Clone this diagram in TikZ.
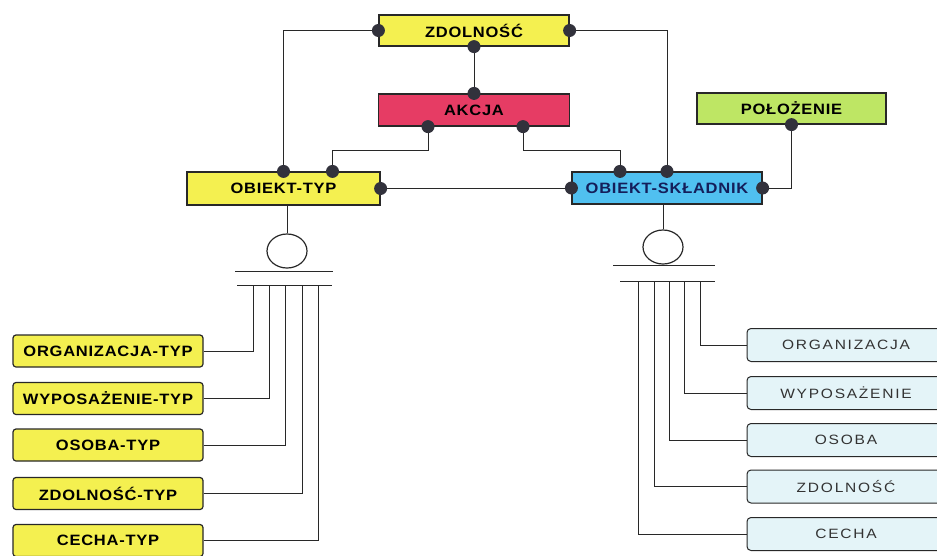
\documentclass[tikz,border=0pt]{standalone}
\usepackage{fontspec}
\setmainfont{Liberation Sans}
\newfontfamily\labf[FakeStretch=1.1,LetterSpace=5]{Liberation Sans}
\newfontfamily\labl[FakeStretch=1.15,LetterSpace=13]{Liberation Sans}
\usetikzlibrary{shapes.geometric,calc}
\definecolor{cyel}{RGB}{244,240,80}
\definecolor{cred}{RGB}{230,60,100}
\definecolor{cgrn}{RGB}{190,230,100}
\definecolor{cblu}{RGB}{80,192,240}
\definecolor{clbl}{RGB}{228,244,248}
\definecolor{cline}{RGB}{40,40,40}
\definecolor{cdot}{RGB}{50,50,60}
\definecolor{cnavy}{RGB}{20,30,90}
\begin{document}
\begin{tikzpicture}[x=1pt,y=-1pt,
  ent/.style={draw=cline, line width=1.2pt, minimum height=32pt, inner sep=0pt,
    font=\labf\fontsize{15}{17}\selectfont\bfseries},
  subt/.style={ent, fill=cyel, minimum width=190pt, minimum height=32pt, rounded corners=3pt},
  subl/.style={draw=cline, line width=1pt, fill=clbl, minimum width=198pt, minimum height=33pt,
    inner sep=0pt, rounded corners=4pt, text=black!80,
    font=\labl\fontsize{13.5}{15}\selectfont},
  conn/.style={draw=cline, line width=1pt},
  oval/.style={draw=cline, line width=1.2pt, ellipse, minimum width=40pt, minimum height=34pt, inner sep=0pt},
  bar/.style={draw=cline, line width=1pt},
  jdot/.style={fill=cdot}
]
\fill[white] (0,0) rectangle (937,555);
\useasboundingbox (0,0) rectangle (937,555);

% main entities
\node[ent, fill=cyel, minimum width=190pt, minimum height=31pt] (zd) at (474,30.5) {ZDOLNOŚĆ};
\node[ent, fill=cred, minimum width=191pt] (ak) at (474,110) {AKCJA};
\node[ent, fill=cgrn, minimum width=189pt, minimum height=31pt] (po) at (791.5,108.5) {POŁOŻENIE};
\node[ent, fill=cyel, minimum width=193pt, minimum height=33pt] (ot) at (283.5,188.5) {OBIEKT-TYP};
\node[ent, fill=cblu, minimum width=190pt, text=cnavy] (os) at (667,188) {OBIEKT-SKŁADNIK};

% connection points
\coordinate (akL) at ([xshift=-46pt]ak.south);
\coordinate (akR) at ([xshift=49pt]ak.south);
\coordinate (otR) at ([xshift=49pt]ot.north);
\coordinate (osL) at ([xshift=-47pt]os.north);

% connectors
\draw[conn] (zd.west) -| (ot.north);
\draw[conn] (zd.east) -| (os.north);
\draw[conn] (zd.south) -- (ak.north);
\draw[conn] (akL) -- ++(0,24) -| (otR);
\draw[conn] (akR) -- ++(0,24) -| (osL);
\draw[conn] (ot.east) -- (ot.east -| os.west);
\draw[conn] (po.south) |- (os.east);

% dots
\foreach \p in {zd.west, zd.east, zd.south, ak.north, akL, akR, ot.north, otR, ot.east, os.west, osL, os.north, os.east, po.south}
  \fill[jdot] (\p) circle (6.5pt);

% left subtype structure
\node[oval] (e1) at (287,251) {};
\draw[conn] (e1.north) -- (e1.north |- ot.south);
\draw[bar] (235,271) -- (333,271);
\draw[bar] (237,285) -- (332,285);

\node[subt] (lo) at (108,351) {ORGANIZACJA-TYP};
\node[subt] (lw) at (108,398.5) {WYPOSAŻENIE-TYP};
\node[subt] (ls) at (108,445) {OSOBA-TYP};
\node[subt] (lz) at (108,493.5) {ZDOLNOŚĆ-TYP};
\node[subt] (lc) at (108,540.5) {CECHA-TYP};

\draw[conn] (lo.east) -| (253,285);
\draw[conn] (lw.east) -| (269,285);
\draw[conn] (ls.east) -| (285,285);
\draw[conn] (lz.east) -| (302,285);
\draw[conn] (lc.east) -| (318,285);

% right subtype structure
\node[oval] (e2) at (663,247) {};
\draw[conn] (e2.north) -- (e2.north |- os.south);
\draw[bar] (613,265) -- (715,265);
\draw[bar] (620,281) -- (715,281);

\node[subl] (ro) at (846,345) {ORGANIZACJA};
\node[subl] (rw) at (846,393) {WYPOSAŻENIE};
\node[subl] (rs) at (846,440) {OSOBA};
\node[subl] (rz) at (846,486.5) {ZDOLNOŚĆ};
\node[subl] (rc) at (846,534) {CECHA};

\draw[conn] (ro.west) -| (700,281);
\draw[conn] (rw.west) -| (684,281);
\draw[conn] (rs.west) -| (669,281);
\draw[conn] (rz.west) -| (654,281);
\draw[conn] (rc.west) -| (638,281);
\end{tikzpicture}
\end{document}
